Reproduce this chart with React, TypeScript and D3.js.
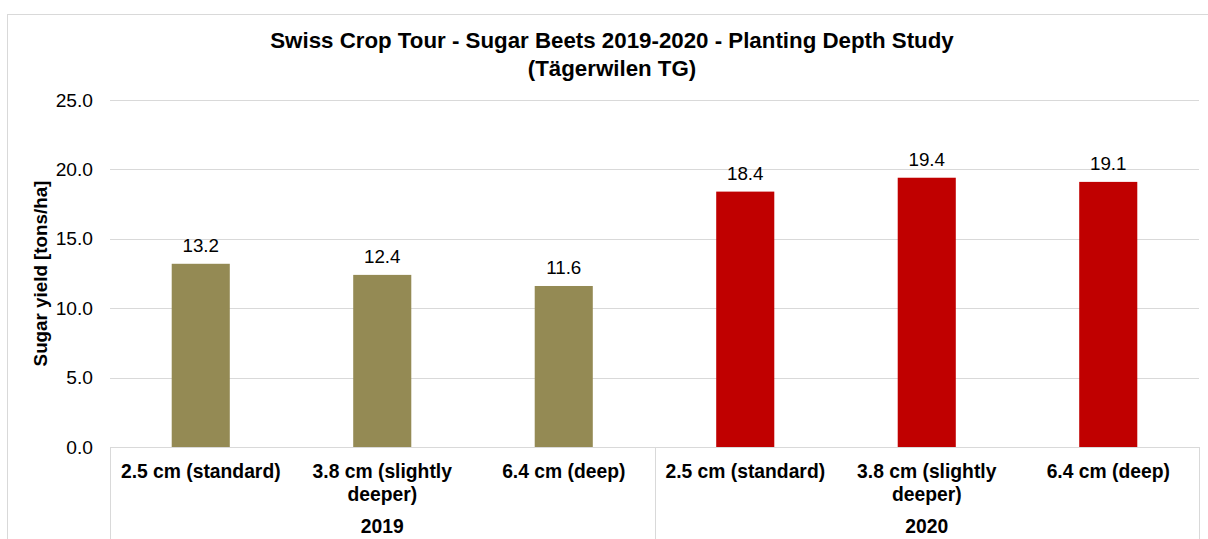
import React from "react";
import * as d3 from "d3";

// Sugar yield per planting depth, grouped by season
const years = ["2019", "2020"];
const depths = ["2.5 cm (standard)", "3.8 cm (slightly deeper)", "6.4 cm (deep)"];
const yield2019 = [13.2, 12.4, 11.6];
const yield2020 = [18.4, 19.4, 19.1];
const yTicks = [0, 5, 10, 15, 20, 25];
const yearColors = ["#948A54", "#C00000"];

const W = 1208;
const H = 539;
const plot = { left: 110, right: 1199, top: 100, bottom: 447 };
const FONT = "'Liberation Sans', Arial, sans-serif";

function wrap(label: string, maxChars: number): string[] {
  const words = label.split(" ");
  const lines: string[] = [];
  let cur = "";
  for (const w of words) {
    const next = cur ? cur + " " + w : w;
    if (next.length > maxChars && cur) {
      lines.push(cur);
      cur = w;
    } else cur = next;
  }
  if (cur) lines.push(cur);
  return lines;
}

export default function App() {
  const series = [yield2019, yield2020];
  const rows = years.flatMap((yr, gi) =>
    depths.map((d, i) => ({ key: `${yr}|${d}`, year: yr, depth: d, value: series[gi][i], color: yearColors[gi] }))
  );

  const x = d3
    .scaleBand<string>()
    .domain(rows.map((r) => r.key))
    .range([plot.left, plot.right])
    .paddingInner(0.68)
    .paddingOuter(0.34);
  const step = x.step();
  const y = d3.scaleLinear().domain([0, 25]).range([plot.bottom, plot.top]);

  const groupEdges = [plot.left, ...years.map((_, gi) => plot.left + step * depths.length * (gi + 1))];

  return (
    <svg
      width={W}
      height={H}
      style={{ position: "fixed", left: 0, top: 0, background: "#fff" }}
      fontFamily={FONT}
    >
      <rect x={7.5} y={14.5} width={W + 20} height={H + 20} fill="#fff" stroke="#D9D9D9" strokeWidth={1} />

      <text x={612} y={48} textAnchor="middle" fontSize={22.3} fontWeight="bold" fill="#000">
        Swiss Crop Tour - Sugar Beets 2019-2020 - Planting Depth Study
      </text>
      <text x={612} y={76} textAnchor="middle" fontSize={22.3} fontWeight="bold" fill="#000">
        (Tägerwilen TG)
      </text>

      {yTicks.map((t) => (
        <g key={t}>
          {t > 0 && (
            <line x1={plot.left} x2={plot.right} y1={Math.round(y(t)) + 0.5} y2={Math.round(y(t)) + 0.5} stroke="#D9D9D9" />
          )}
          <text x={93} y={y(t) + 6.5} textAnchor="end" fontSize={19.2} fill="#000">
            {t.toFixed(1)}
          </text>
        </g>
      ))}

      <text
        transform={`translate(47,${(plot.top + plot.bottom) / 2}) rotate(-90)`}
        textAnchor="middle"
        fontSize={18.8}
        fontWeight="bold"
        fill="#000"
      >
        Sugar yield [tons/ha]
      </text>

      {rows.map((r) => {
        const bx = x(r.key)!;
        const cx = bx + x.bandwidth() / 2;
        return (
          <g key={r.key}>
            <rect x={bx} y={y(r.value)} width={x.bandwidth()} height={plot.bottom - y(r.value)} fill={r.color} />
            <text x={cx} y={y(r.value) - 12} textAnchor="middle" fontSize={18.8} fill="#000">
              {r.value.toFixed(1)}
            </text>
            {wrap(r.depth, 17).map((ln, li) => (
              <text key={li} x={cx} y={478 + li * 23} textAnchor="middle" fontSize={19.3} fontWeight="bold" fill="#000">
                {ln}
              </text>
            ))}
          </g>
        );
      })}

      <line x1={plot.left} x2={plot.right} y1={plot.bottom + 0.5} y2={plot.bottom + 0.5} stroke="#D9D9D9" />
      {groupEdges.map((gx, i) => (
        <line key={i} x1={Math.round(gx) + 0.5} x2={Math.round(gx) + 0.5} y1={plot.bottom} y2={H + 5} stroke="#D9D9D9" />
      ))}
      {years.map((yr, gi) => (
        <text
          key={yr}
          x={(groupEdges[gi] + groupEdges[gi + 1]) / 2}
          y={533}
          textAnchor="middle"
          fontSize={19.3}
          fontWeight="bold"
          fill="#000"
        >
          {yr}
        </text>
      ))}
    </svg>
  );
}
